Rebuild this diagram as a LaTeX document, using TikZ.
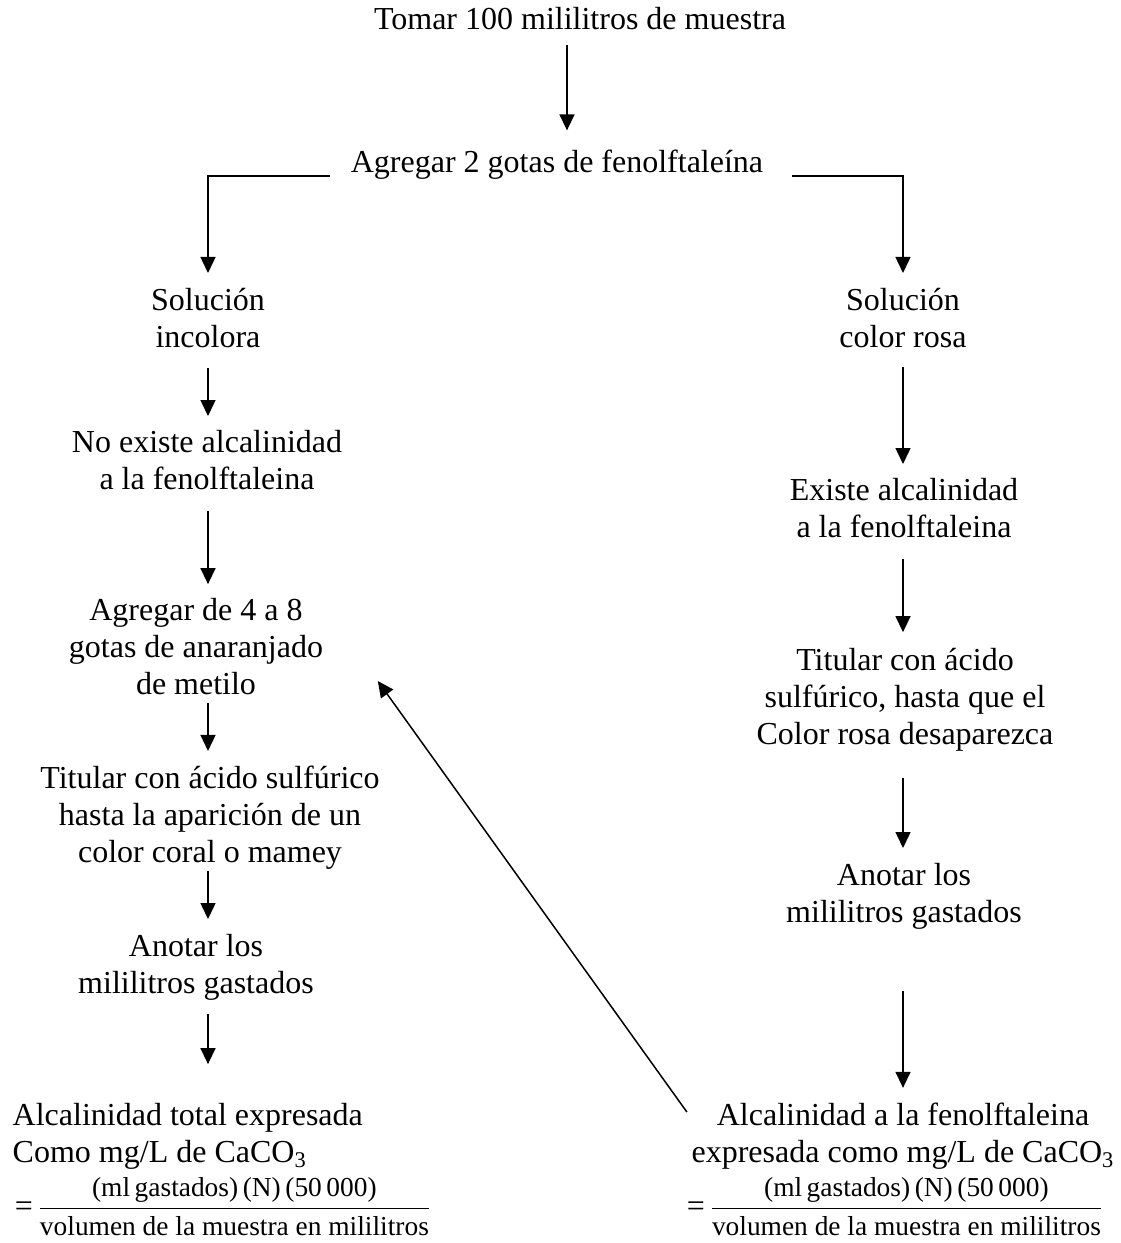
\documentclass[tikz,border=0pt]{standalone}
\usepackage{amsmath}
\usepackage{fontspec}
\setmainfont{Liberation Serif}
\usetikzlibrary{arrows.meta}
\newcommand{\alcfrac}{$\text{\fontsize{16}{16}\selectfont=}\,\dfrac{\text{(ml\,gastados)\,(N)\,(50\,000)}}{\text{volumen de la muestra en mililitros}}$}

\begin{document}
\begin{tikzpicture}[x=0.5pt,y=-0.5pt,line width=0.75pt,>={Triangle[length=8pt,width=7.5pt]},
    txt/.style={align=center,inner sep=0pt,font=\fontsize{16}{18.5}\selectfont,
      execute at begin node=\strut,execute at end node=\strut},
    frm/.style={inner sep=0pt,anchor=base west,font=\fontsize{13.7}{16}\selectfont}]
  \useasboundingbox (0,0) rectangle (1120,1243);
  \node[txt] (tomar) at (580,22) {Tomar 100 mililitros de muestra};
  \node[txt] (agr2) at (557,164.6) {Agregar 2 gotas de fenolftaleína};
  % rama izquierda
  \node[txt] (inc) at (208,323) {Solución\\incolora};
  \node[txt] (noex) at (207,465) {No existe alcalinidad\\a la fenolftaleina};
  \node[txt] (metilo) at (196,651.6) {Agregar de 4 a 8\\gotas de anaranjado\\de metilo};
  \node[txt] (titL) at (210,819.6) {Titular con ácido sulfúrico\\hasta la aparición de un\\color coral o mamey};
  \node[txt] (anoL) at (196,969) {Anotar los\\mililitros gastados};
  \node[txt,align=left,anchor=west] (alcT) at (12,1138) {Alcalinidad total expresada\\Como mg/L de CaCO\textsubscript{3}};
  \node[frm] (frT) at (14,1216) {\alcfrac};
  % rama derecha
  \node[txt] (rosa) at (903,323) {Solución\\color rosa};
  \node[txt] (exis) at (904,513) {Existe alcalinidad\\a la fenolftaleina};
  \node[txt] (titR) at (905,701.6) {Titular con ácido\\sulfúrico, hasta que el\\Color rosa desaparezca};
  \node[txt] (anoR) at (904,898) {Anotar los\\mililitros gastados};
  \node[txt] (alcF) at (903,1138) {Alcalinidad a la fenolftaleina\\expresada como mg/L de CaCO\textsubscript{3}};
  \node[frm] (frF) at (686,1216) {\alcfrac};

  \draw[->] ([xshift=-6.5pt,yshift=-2pt]tomar.south) -- ([xshift=5pt,yshift=7.5pt]agr2.north);
  \draw[->,shorten <=10pt,shorten >=7.05pt] ([yshift=-5.7pt]agr2.west) -| (inc.north);
  \draw[->,shorten <=14pt,shorten >=7.05pt] ([yshift=-5.7pt]agr2.east) -| (rosa.north);

  \draw[->,shorten <=4.45pt,shorten >=6.55pt] (inc.south) -- (noex.north -| inc);
  \draw[->,shorten <=4.95pt,shorten >=6.55pt] (noex.south -| inc) -- (metilo.north -| inc);
  \draw[->,shorten <=-1.55pt,shorten >=7.05pt] (metilo.south -| inc) -- (titL.north -| inc);
  \draw[->,shorten <=-1.55pt,shorten >=7.05pt] (titL.south -| inc) -- (anoL.north -| inc);
  \draw[->,shorten <=4.45pt,shorten >=19pt] (anoL.south -| inc) -- (alcT.north -| inc);

  \draw[->,shorten <=3.95pt,shorten >=6.55pt] (rosa.south) -- (exis.north -| rosa);
  \draw[->,shorten <=4.95pt,shorten >=7.55pt] (exis.south -| rosa) -- (titR.north -| rosa);
  \draw[->,shorten <=10.95pt,shorten >=7.05pt] (titR.south -| rosa) -- (anoR.north -| rosa);
  \draw[->,shorten <=28.45pt,shorten >=7.05pt] (anoR.south -| rosa) -- (alcF.north -| rosa);

  \draw[->] ([shift={(-2pt,13pt)}]alcF.west) -- ([shift={(27pt,-14.7pt)}]metilo.east);
\end{tikzpicture}
\end{document}
